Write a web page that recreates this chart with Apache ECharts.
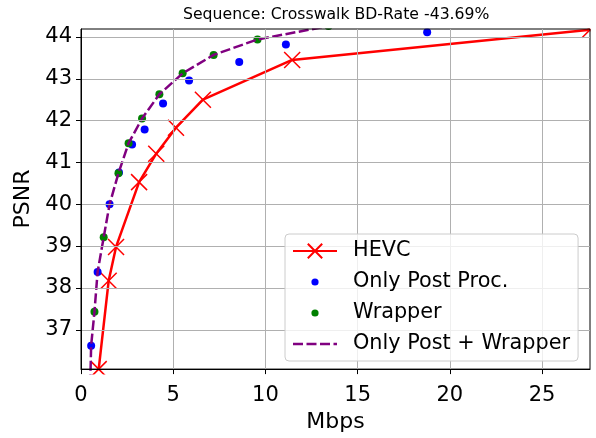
<!DOCTYPE html>
<html>
<head>
<meta charset="utf-8">
<script src="https://cdn.jsdelivr.net/npm/echarts@6/dist/echarts.min.js"></script>
<style>
html,body{margin:0;padding:0;background:#fff;}
#chart{width:596px;height:438px;}
</style>
</head>
<body>
<div id="chart"></div>
<script>
// ---- data (Mbps, PSNR) ----
var hevcRate = [0.96, 1.50, 1.90, 3.15, 4.08, 5.15, 6.61, 11.45, 27.6];
var hevcPsnr = [36.06, 38.17, 38.98, 40.53, 41.21, 41.83, 42.50, 43.45, 44.17];

var postRate = [0.55, 0.90, 1.55, 2.06, 2.77, 3.45, 4.45, 5.86, 8.58, 11.11, 18.77];
var postPsnr = [36.62, 38.38, 40.00, 40.76, 41.43, 41.79, 42.41, 42.96, 43.40, 43.82, 44.11];

var wrapRate = [0.73, 1.23, 2.03, 2.58, 3.31, 4.25, 5.51, 7.19, 9.57, 13.42];
var wrapPsnr = [37.43, 39.21, 40.74, 41.46, 42.05, 42.63, 43.13, 43.57, 43.94, 44.26];

var bothRate = [0.50, 0.55, 0.73, 0.90, 1.23, 1.55, 2.03, 2.58, 3.31, 4.25, 5.51, 7.19, 9.57, 13.42];
var bothPsnr = [35.70, 36.62, 37.43, 38.38, 39.21, 40.00, 40.74, 41.46, 42.05, 42.63, 43.13, 43.57, 43.94, 44.26];

var xTicks = [0, 5, 10, 15, 20, 25];
var yTicks = [37, 38, 39, 40, 41, 42, 43, 44];

var seriesNames = ['HEVC', 'Only Post Proc.', 'Wrapper', 'Only Post + Wrapper'];
var titleText = 'Sequence: Crosswalk BD-Rate -43.69%';

function pairs(a, b) { return a.map(function (v, i) { return [v, b[i]]; }); }

var FONT = 'DejaVu Sans';
var dotIcon = 'path://M0,0M20,20M6,10A4,4 0 1,0 14,10A4,4 0 1,0 6,10Z';
var dashIcon = 'path://M0,0M44,18M0,7.75h10v2.5h-10ZM13.5,7.75h10v2.5h-10ZM27,7.75h10v2.5h-10ZM40.5,7.75h3.5v2.5h-3.5Z';

var W = 596, H = 438, G = {left: 81, right: 6, top: 29, bottom: 64};

// white masks outside the plot area so markers are clipped at the frame like the original
var masks = [
  {type: 'rect', shape: {x: 0, y: 0, width: W, height: G.top - 0.5}},
  {type: 'rect', shape: {x: 0, y: H - G.bottom + 0.5, width: W, height: G.bottom}},
  {type: 'rect', shape: {x: 0, y: 0, width: G.left - 0.5, height: H}},
  {type: 'rect', shape: {x: W - G.right + 0.5, y: 0, width: G.right, height: H}}
].map(function (m) { m.style = {fill: '#ffffff'}; m.z = 8; m.silent = true; return m; });

var chart = echarts.init(document.getElementById('chart'), null, {renderer: 'canvas'});
chart.setOption({
  animation: false,
  backgroundColor: '#ffffff',
  graphic: masks,
  title: {
    text: titleText, z: 12,
    left: 183, top: 6.5, padding: 0,
    textStyle: {fontFamily: FONT, fontSize: 15.7, fontWeight: 'normal', color: '#000'}
  },
  grid: {left: G.left, right: G.right, top: G.top, bottom: G.bottom, show: true, z: 10,
         backgroundColor: 'transparent', borderColor: '#000', borderWidth: 1, containLabel: false},
  xAxis: {
    type: 'value', min: 0, max: 27.6, interval: 5, z: 10,
    name: 'Mbps', nameLocation: 'middle', nameGap: 41,
    nameTextStyle: {fontFamily: FONT, fontSize: 22, color: '#000'},
    axisLine: {show: true, onZero: false, lineStyle: {color: '#000', width: 1}},
    axisTick: {show: true, inside: false, length: 5, lineStyle: {color: '#000'}, customValues: xTicks},
    axisLabel: {fontFamily: FONT, fontSize: 21, color: '#000', margin: 16, customValues: xTicks},
    splitLine: {show: true, lineStyle: {color: '#b0b0b0', width: 1}}
  },
  yAxis: {
    type: 'value', min: 36.06, max: 44.19, z: 10,
    name: 'PSNR', nameLocation: 'middle', nameGap: 46,
    nameTextStyle: {fontFamily: FONT, fontSize: 22, color: '#000'},
    axisLine: {show: true, onZero: false, lineStyle: {color: '#000', width: 1}},
    axisTick: {show: true, inside: false, length: 5, lineStyle: {color: '#000'}, customValues: yTicks},
    axisLabel: {fontFamily: FONT, fontSize: 21, color: '#000', margin: 9, customValues: yTicks},
    splitLine: {show: true, lineStyle: {color: '#b0b0b0', width: 1}}
  },
  legend: {
    orient: 'vertical', left: 285, top: 234, z: 12,
    padding: [5, 8, 5, 7],
    itemWidth: 44, itemHeight: 18, itemGap: 7,
    backgroundColor: 'rgba(255,255,255,0.8)', borderColor: '#cccccc', borderWidth: 1, borderRadius: 4,
    textStyle: {fontFamily: FONT, fontSize: 20.8, color: '#000', lineHeight: 24, padding: [0, 0, 0, 11]},
    data: [
      {name: seriesNames[0]},
      {name: seriesNames[1], icon: dotIcon},
      {name: seriesNames[2], icon: dotIcon},
      {name: seriesNames[3], icon: dashIcon, itemStyle: {color: '#800080', opacity: 1}}
    ]
  },
  series: [
    {
      name: seriesNames[0], type: 'line', data: pairs(hevcRate, hevcPsnr),
      color: '#ff0000', clip: false,
      symbol: 'path://M0,0L10,10M0,10L10,0', symbolSize: 16, showAllSymbol: true,
      itemStyle: {color: '#ff0000', borderColor: '#ff0000', borderWidth: 1.5},
      lineStyle: {color: '#ff0000', width: 2.5}, z: 3
    },
    {
      name: seriesNames[1], type: 'scatter', data: pairs(postRate, postPsnr), clip: false,
      color: '#0000ff', symbol: 'circle', symbolSize: 8,
      itemStyle: {color: '#0000ff', opacity: 1}, z: 4
    },
    {
      name: seriesNames[2], type: 'scatter', data: pairs(wrapRate, wrapPsnr), clip: false,
      color: '#008000', symbol: 'circle', symbolSize: 8,
      itemStyle: {color: '#008000', opacity: 1}, z: 5
    },
    {
      name: seriesNames[3], type: 'line', data: pairs(bothRate, bothPsnr), clip: false,
      color: '#800080', symbol: 'none', showSymbol: false,
      lineStyle: {color: '#800080', width: 2.5, type: [10, 3.5]}, z: 6
    }
  ]
});
</script>
</body>
</html>
